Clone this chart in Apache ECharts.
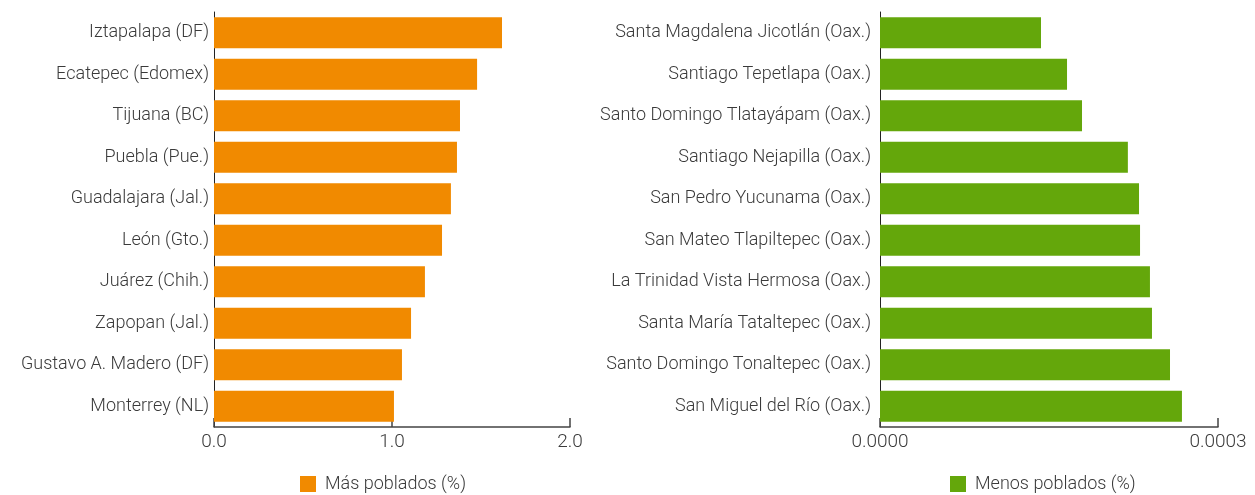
<!DOCTYPE html>
<html><head><meta charset="utf-8">
<script src="https://cdn.jsdelivr.net/npm/echarts@6/dist/echarts.min.js"></script>
<style>html,body{margin:0;padding:0;background:#fff}#c{width:1255px;height:495px}</style>
</head><body><div id="c"></div>
<script>
const leftCategories = ["Iztapalapa (DF)","Ecatepec (Edomex)","Tijuana (BC)","Puebla (Pue.)","Guadalajara (Jal.)","León (Gto.)","Juárez (Chih.)","Zapopan (Jal.)","Gustavo A. Madero (DF)","Monterrey (NL)"];
const leftValues = [1.618,1.478,1.382,1.365,1.331,1.281,1.185,1.107,1.056,1.011];
const rightCategories = ["Santa Magdalena Jicotlán (Oax.)","Santiago Tepetlapa (Oax.)","Santo Domingo Tlatayápam (Oax.)","Santiago Nejapilla (Oax.)","San Pedro Yucunama (Oax.)","San Mateo Tlapiltepec (Oax.)","La Trinidad Vista Hermosa (Oax.)","Santa María Tataltepec (Oax.)","Santo Domingo Tonaltepec (Oax.)","San Miguel del Río (Oax.)"];
const rightValues = [0.0001429,0.000166,0.0001793,0.00022,0.0002299,0.0002308,0.0002396,0.0002414,0.0002574,0.000268];
const leftSeriesName = "Más poblados (%)";
const rightSeriesName = "Menos poblados (%)";

const FONT = "Roboto";
const TXT = "#3a3a3a";
const chart = echarts.init(document.getElementById('c'));
const xAxisCommon = {
  type:'value',
  axisLine:{show:true,lineStyle:{color:'#444',width:1.5}},
  axisTick:{show:true,inside:true,length:9,lineStyle:{color:'#444',width:1.5}},
  splitLine:{show:false},
  axisLabel:{color:TXT,fontFamily:FONT,fontWeight:300,fontSize:19,margin:6}
};
const yAxisCommon = {
  type:'category', inverse:true,
  axisLine:{show:true,lineStyle:{color:'#222',width:1}},
  axisTick:{show:false},
  axisLabel:{color:TXT,fontFamily:FONT,fontWeight:300,fontSize:18,padding:[4,0,0,0]}
};
const legendText = {color:TXT,fontFamily:FONT,fontWeight:300,fontSize:18,padding:[0,0,0,4]};
chart.setOption({
  animation:false,
  grid:[
    {left:214,right:685,top:12,bottom:68,containLabel:false},
    {left:880,right:37,top:12,bottom:68,containLabel:false}
  ],
  xAxis:[
    Object.assign({},xAxisCommon,{gridIndex:0,min:0,max:2,interval:1,axisLabel:Object.assign({},xAxisCommon.axisLabel,{formatter:v=>v.toFixed(1)})}),
    Object.assign({},xAxisCommon,{gridIndex:1,min:0,max:0.0003,interval:0.0003,axisLabel:Object.assign({},xAxisCommon.axisLabel,{formatter:v=>v.toFixed(4)})})
  ],
  yAxis:[
    Object.assign({},yAxisCommon,{gridIndex:0,data:leftCategories,axisLabel:Object.assign({},yAxisCommon.axisLabel,{margin:5})}),
    Object.assign({},yAxisCommon,{gridIndex:1,data:rightCategories,axisLabel:Object.assign({},yAxisCommon.axisLabel,{margin:9})})
  ],
  legend:[
    {data:[leftSeriesName],left:300,top:475,padding:0,itemWidth:16,itemHeight:16,icon:'rect',textStyle:legendText},
    {data:[rightSeriesName],left:950,top:475,padding:0,itemWidth:16,itemHeight:16,icon:'rect',textStyle:legendText}
  ],
  series:[
    {name:leftSeriesName,type:'bar',xAxisIndex:0,yAxisIndex:0,data:leftValues,barCategoryGap:'25%',itemStyle:{color:'#F18A00'}},
    {name:rightSeriesName,type:'bar',xAxisIndex:1,yAxisIndex:1,data:rightValues,barCategoryGap:'25%',itemStyle:{color:'#64A70B'}}
  ]
});
</script></body></html>
